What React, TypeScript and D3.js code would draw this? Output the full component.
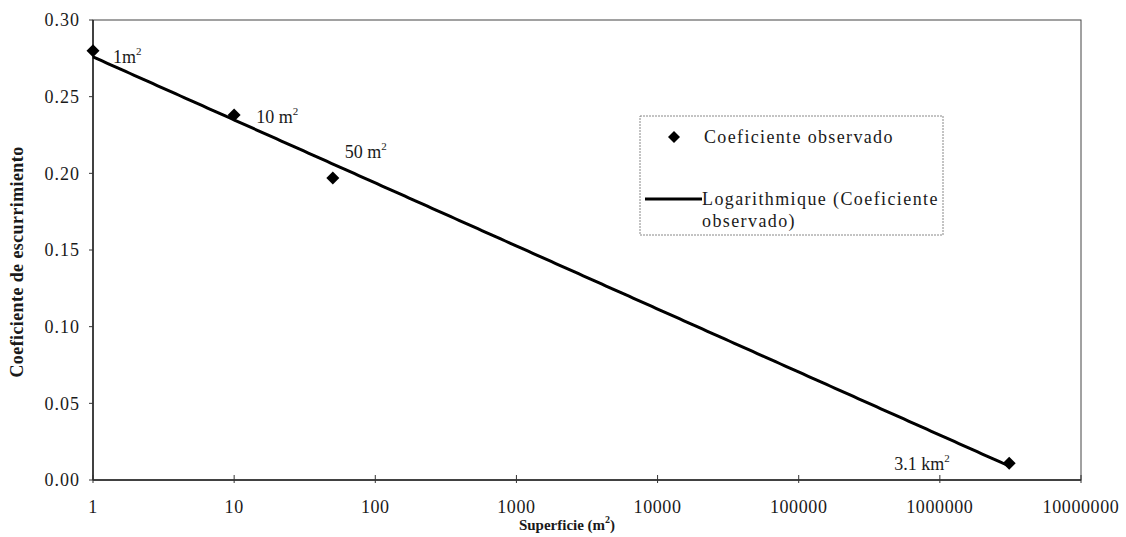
import React from "react";
import * as d3 from "d3";

// Observed runoff coefficient against catchment surface
const surfaces = [1, 10, 50, 3100000];
const coefficients = [0.28, 0.238, 0.197, 0.011];
const pointLabels = ["1m", "10 m", "50 m", "3.1 km"];
const xTicks = [1, 10, 100, 1000, 10000, 100000, 1000000, 10000000];
const yTicks = [0, 0.05, 0.1, 0.15, 0.2, 0.25, 0.3];

const W = 1126;
const H = 537;
const margin = { left: 93, right: 45, top: 20, bottom: 57 };
const FONT = "Liberation Serif, Times New Roman, serif";

// Logarithmic trendline: least squares of y against ln(x)
function logFit(xs: number[], ys: number[]) {
  const lx = xs.map((v) => Math.log(v));
  const mx = d3.mean(lx)!;
  const my = d3.mean(ys)!;
  let sxy = 0;
  let sxx = 0;
  lx.forEach((v, i) => {
    sxy += (v - mx) * (ys[i] - my);
    sxx += (v - mx) * (v - mx);
  });
  const b = sxy / sxx;
  const a = my - b * mx;
  return (x: number) => a + b * Math.log(x);
}

function Diamond({ cx, cy, r }: { cx: number; cy: number; r: number }) {
  return (
    <path
      d={`M${cx},${cy - r}L${cx + r},${cy}L${cx},${cy + r}L${cx - r},${cy}Z`}
      fill="#000"
    />
  );
}

export default function App() {
  const x = d3
    .scaleLog()
    .domain([1, 10000000])
    .range([margin.left, W - margin.right]);
  const y = d3
    .scaleLinear()
    .domain([0, 0.3])
    .range([H - margin.bottom, margin.top]);

  const fit = logFit(surfaces, coefficients);
  const lo = Math.log10(surfaces[0]);
  const hi = Math.log10(surfaces[surfaces.length - 1]);
  const trendX = d3.range(0, 201).map((i) => Math.pow(10, lo + ((hi - lo) * i) / 200));
  const line = d3
    .line<number>()
    .x((d) => x(d))
    .y((d) => y(fit(d)));

  const x0 = x.range()[0];
  const x1 = x.range()[1];
  const y0 = y.range()[0];
  const y1 = y.range()[1];

  // label offsets around each observed point
  const labelPos = [
    { dx: 20, dy: 12 },
    { dx: 22, dy: 8 },
    { dx: 12, dy: -20 },
    { dx: -115, dy: 7 },
  ];

  const textColor = "#1a1a1a";

  return (
    <svg
      width={W}
      height={H}
      style={{ position: "absolute", left: 0, top: 0, background: "#fff" }}
      fontFamily={FONT}
    >
      {/* plot frame */}
      <rect
        x={x0}
        y={y1}
        width={x1 - x0}
        height={y0 - y1}
        fill="#fff"
        stroke="#444"
        strokeWidth={1}
      />
      <line x1={x0} x2={x1} y1={y0} y2={y0} stroke="#222" strokeWidth={1.5} />
      <line x1={x0} x2={x0} y1={y0} y2={y1} stroke="#222" strokeWidth={1.5} />

      {/* y axis */}
      {yTicks.map((t) => (
        <g key={t}>
          <line x1={x0 - 4} x2={x0} y1={y(t)} y2={y(t)} stroke="#333" />
          <text
            x={x0 - 13}
            y={y(t)}
            dy="0.35em"
            textAnchor="end"
            fontSize={18}
            letterSpacing={1}
            fill={textColor}
          >
            {t.toFixed(2)}
          </text>
        </g>
      ))}

      {/* x axis */}
      {xTicks.map((t) => (
        <g key={t}>
          <line x1={x(t)} x2={x(t)} y1={y0 - 5} y2={y0 + 3} stroke="#333" />
          <text
            x={x(t)}
            y={y0 + 33}
            textAnchor="middle"
            fontSize={18}
            letterSpacing={0.6}
            fill={textColor}
          >
            {String(t)}
          </text>
        </g>
      ))}

      {/* trendline */}
      <path d={line(trendX)!} fill="none" stroke="#000" strokeWidth={3} />

      {/* observed points */}
      {surfaces.map((s, i) => (
        <Diamond key={s} cx={x(s)} cy={y(coefficients[i])} r={6.5} />
      ))}

      {/* point labels */}
      {surfaces.map((s, i) => (
        <text
          key={`l${s}`}
          x={x(s) + labelPos[i].dx}
          y={y(coefficients[i]) + labelPos[i].dy}
          fontSize={18}
          fill={textColor}
        >
          {pointLabels[i]}
          <tspan fontSize={11} dy={-8}>
            2
          </tspan>
        </text>
      ))}

      {/* legend */}
      <rect
        x={640}
        y={116}
        width={303}
        height={119}
        fill="#fff"
        stroke="#888"
        strokeWidth={1}
        strokeDasharray="2,1"
      />
      <Diamond cx={674} cy={137} r={6} />
      <text x={704} y={137} dy="0.35em" fontSize={18} letterSpacing={1.35} fill={textColor}>
        Coeficiente observado
      </text>
      <line x1={645} x2={702} y1={199} y2={199} stroke="#000" strokeWidth={3} />
      <text x={702} y={199} dy="0.35em" fontSize={18} letterSpacing={1.4} fill={textColor}>
        Logarithmique (Coeficiente
      </text>
      <text x={702} y={221} dy="0.35em" fontSize={18} letterSpacing={1.4} fill={textColor}>
        observado)
      </text>

      {/* axis titles */}
      <text
        transform={`translate(23, ${262}) rotate(-90)`}
        textAnchor="middle"
        fontSize={18}
        fontWeight="bold"
        letterSpacing={0.4}
        fill={textColor}
      >
        Coeficiente de escurrimiento
      </text>
      <text
        x={567}
        y={530}
        textAnchor="middle"
        fontSize={15}
        fontWeight="bold"
        fill={textColor}
      >
        Superficie (m
        <tspan fontSize={10} dy={-7}>
          2
        </tspan>
        <tspan dy={7}>)</tspan>
      </text>
    </svg>
  );
}
